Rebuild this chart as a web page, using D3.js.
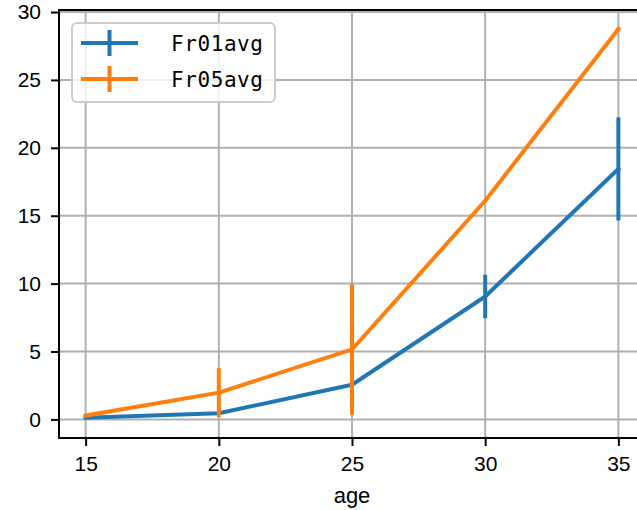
<!DOCTYPE html>
<html><head><meta charset="utf-8">
<script src="https://cdn.jsdelivr.net/npm/d3@7"></script>
<style>body{margin:0;background:#fff}svg{display:block}</style>
</head><body><svg id="c" width="637" height="510"></svg>
<script>
const ages = [15, 20, 25, 30, 35];
const fr01 = [0.12, 0.45, 2.55, 9.05, 18.45];
const fr01Err = [0.05, 0.08, 0.15, 1.6, 3.8];
const fr05 = [0.28, 1.97, 5.15, 16.1, 28.75];
const fr05Err = [0.05, 1.8, 4.8, 0.1, 0.1];
const xTicks = [15, 20, 25, 30, 35];
const yTicks = [0, 5, 10, 15, 20, 25, 30];
const seriesNames = ["Fr01avg", "Fr05avg"];
const colors = ["#1f77b4", "#ff7f0e"];

const svg = d3.select("#c");
const L = 59, R = 645, T = 10, B = 438;
const x = d3.scaleLinear().domain([14, 36]).range([L, R]);
const y = d3.scaleLinear().domain([-1.37, 30.15]).range([B, T]);
const font = "Liberation Sans, Arial, sans-serif";

// grid
const g = svg.append("g");
g.selectAll(".gx").data(xTicks).join("line")
  .attr("x1", d => x(d)).attr("x2", d => x(d)).attr("y1", T).attr("y2", B)
  .attr("stroke", "#b0b0b0").attr("stroke-width", 2);
g.selectAll(".gy").data(yTicks).join("line")
  .attr("x1", L).attr("x2", R).attr("y1", d => y(d)).attr("y2", d => y(d))
  .attr("stroke", "#b0b0b0").attr("stroke-width", 2);

// series
const series = [
  {name: seriesNames[0], vals: fr01, err: fr01Err, color: colors[0]},
  {name: seriesNames[1], vals: fr05, err: fr05Err, color: colors[1]}
];
const line = d3.line().x(d => x(d[0])).y(d => y(d[1]));
series.forEach(s => {
  const pts = ages.map((a, i) => [a, s.vals[i], s.err[i]]);
  svg.append("path").datum(pts).attr("d", line)
    .attr("fill", "none").attr("stroke", s.color).attr("stroke-width", 4)
    .attr("stroke-linejoin", "round").attr("stroke-linecap", "square");
  svg.append("g").selectAll("line").data(pts).join("line")
    .attr("x1", d => x(d[0])).attr("x2", d => x(d[0]))
    .attr("y1", d => y(d[1] - d[2])).attr("y2", d => y(d[1] + d[2]))
    .attr("stroke", s.color).attr("stroke-width", 4);
});

// axes
const xAxis = svg.append("g").attr("transform", `translate(0,${B})`)
  .call(d3.axisBottom(x).tickValues(xTicks).tickSize(8).tickPadding(10).tickFormat(d3.format("d")));
const yAxis = svg.append("g").attr("transform", `translate(${L},0)`)
  .call(d3.axisLeft(y).tickValues(yTicks).tickSize(8).tickPadding(10).tickFormat(d3.format("d")));
[xAxis, yAxis].forEach(a => {
  a.select(".domain").remove();
  a.selectAll(".tick line").attr("stroke", "#000").attr("stroke-width", 2);
  a.selectAll("text").attr("font-family", font).attr("font-size", 21).attr("fill", "#000");
});
// spines
svg.append("line").attr("x1", L).attr("x2", L).attr("y1", T).attr("y2", B).attr("stroke", "#000").attr("stroke-width", 2);
svg.append("line").attr("x1", L - 1).attr("x2", R).attr("y1", B).attr("y2", B).attr("stroke", "#000").attr("stroke-width", 2);
svg.append("line").attr("x1", L - 1).attr("x2", R).attr("y1", T).attr("y2", T).attr("stroke", "#000").attr("stroke-width", 2);

svg.append("text").attr("x", x(25)).attr("y", 503).attr("text-anchor", "middle")
  .attr("font-family", font).attr("font-size", 22).text("age");

// legend
const lg = svg.append("g");
lg.append("rect").attr("x", 72).attr("y", 23).attr("width", 203).attr("height", 79).attr("rx", 5)
  .attr("fill", "#fff").attr("fill-opacity", 0.8).attr("stroke", "#cccccc").attr("stroke-width", 2);
series.forEach((s, i) => {
  const ly = 43 + i * 36;
  lg.append("line").attr("x1", 81).attr("x2", 138).attr("y1", ly).attr("y2", ly)
    .attr("stroke", s.color).attr("stroke-width", 4);
  lg.append("line").attr("x1", 109.5).attr("x2", 109.5).attr("y1", ly - 13).attr("y2", ly + 13)
    .attr("stroke", s.color).attr("stroke-width", 4);
  lg.append("text").attr("x", 171).attr("y", ly + 8)
    .attr("font-family", "DejaVu Sans Mono, monospace").attr("font-size", 21)
    .attr("textLength", 92).attr("lengthAdjust", "spacing").text(s.name);
});
</script></body></html>
